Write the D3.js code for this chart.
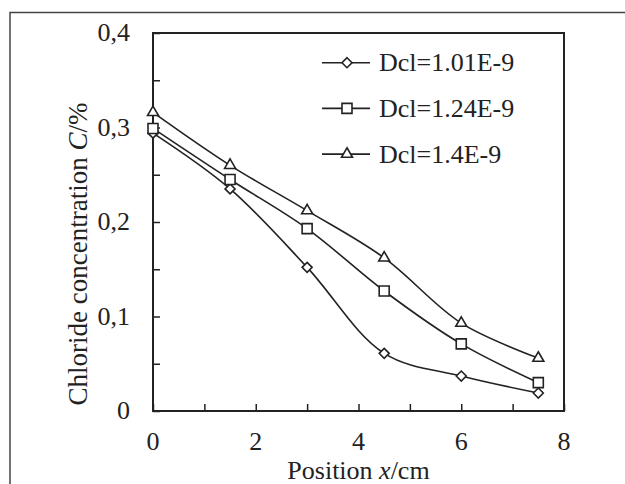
<!DOCTYPE html>
<html>
<head>
    <meta charset="UTF-8" />
</head>
<body style="margin:0">
    <svg id="svg" width="625" height="484"></svg>
    <script src="https://cdn.jsdelivr.net/npm/d3@7"></script>
    <script>
        // data
        const positions = [0, 1.5, 3, 4.5, 6, 7.5];
        const dcl101 = [0.294, 0.235, 0.152, 0.061, 0.037, 0.019];
        const dcl124 = [0.299, 0.245, 0.193, 0.127, 0.071, 0.030];
        const dcl140 = [0.316, 0.260, 0.212, 0.162, 0.093, 0.056];
        const seriesNames = ["Dcl=1.01E-9", "Dcl=1.24E-9", "Dcl=1.4E-9"];
        const xTicks = [0, 2, 4, 6, 8];
        const yTicks = [0, 0.1, 0.2, 0.3, 0.4];

        const series = [
            { name: seriesNames[0], values: dcl101, marker: "diamond" },
            { name: seriesNames[1], values: dcl124, marker: "square" },
            { name: seriesNames[2], values: dcl140, marker: "triangle" }
        ];

        const margin = { top: 33, right: 61, bottom: 73, left: 153 };
        const width = 625 - margin.left - margin.right;
        const height = 484 - margin.top - margin.bottom;

        const svg = d3.select("#svg");

        // all text in one serif face
        const addText = (parent, size) => parent.append("text")
            .attr("font-family", "Liberation Serif")
            .attr("font-size", size)
            .attr("fill", "#222");

        // outer frame of the figure (runs off the right and bottom)
        svg.append("rect")
            .attr("x", 10).attr("y", 12.5)
            .attr("width", 700).attr("height", 600)
            .attr("fill", "none")
            .attr("stroke", "#444")
            .attr("stroke-width", 1.5);

        const g = svg.append("g")
            .attr("transform", `translate(${margin.left},${margin.top})`);

        const xScale = d3.scaleLinear().domain([0, 8]).range([0, width]);
        const yScale = d3.scaleLinear().domain([0, 0.4]).range([height, 0]);

        const fmt = (d) => d === 0 ? "0" : d3.format(".1f")(d).replace(".", ",");

        // inward ticks
        const xAxis = g.append("g")
            .attr("transform", `translate(0,${height})`)
            .call(d3.axisBottom(xScale).ticks(8).tickSize(-7).tickFormat(""));
        const yAxis = g.append("g")
            .call(d3.axisLeft(yScale).tickValues(d3.range(0, 0.401, 0.05)).tickSize(-7).tickFormat(""));
        [xAxis, yAxis].forEach((ax) => {
            ax.select(".domain").remove();
            ax.selectAll("line").attr("stroke", "#222").attr("stroke-width", 1.5);
        });

        // tick labels
        xTicks.forEach((d) => {
            addText(g, 26)
                .attr("x", xScale(d))
                .attr("y", height + 39)
                .attr("text-anchor", "middle")
                .text(d);
        });
        yTicks.forEach((d) => {
            addText(g, 26)
                .attr("x", -23)
                .attr("y", yScale(d) + 8)
                .attr("text-anchor", "end")
                .text(fmt(d));
        });

        // plot frame
        g.append("rect")
            .attr("width", width).attr("height", height)
            .attr("fill", "none")
            .attr("stroke", "#222")
            .attr("stroke-width", 2);

        // axis titles
        const xt = addText(svg, 26)
            .attr("x", margin.left + width / 2)
            .attr("y", 479)
            .attr("text-anchor", "middle");
        xt.append("tspan").text("Position ");
        xt.append("tspan").attr("font-style", "italic").text("x");
        xt.append("tspan").text("/cm");

        const yt = addText(svg, 27)
            .attr("transform", "translate(87,254) rotate(-90)")
            .attr("text-anchor", "middle");
        yt.append("tspan").text("Chloride concentration ");
        yt.append("tspan").attr("font-style", "italic").text("C");
        yt.append("tspan").text("/%");

        // marker shapes
        function markerPath(type) {
            const p = d3.path();
            if (type === "diamond") {
                const r = 5;
                p.moveTo(0, -r); p.lineTo(r, 0); p.lineTo(0, r); p.lineTo(-r, 0); p.closePath();
                return p.toString();
            }
            if (type === "square") {
                return d3.symbol().type(d3.symbolSquare).size(100)();
            }
            return d3.symbol().type(d3.symbolTriangle).size(52)();
        }

        const line = d3.line()
            .x((d) => xScale(d[0]))
            .y((d) => yScale(d[1]))
            .curve(d3.curveCatmullRom.alpha(0.5));

        series.forEach((s) => {
            const pts = positions.map((x, i) => [x, s.values[i]]);
            g.append("path")
                .datum(pts)
                .attr("d", line)
                .attr("fill", "none")
                .attr("stroke", "#222")
                .attr("stroke-width", 1.6);
        });

        series.forEach((s) => {
            const pts = positions.map((x, i) => [x, s.values[i]]);
            g.selectAll(null)
                .data(pts)
                .enter().append("path")
                .attr("transform", (d) => `translate(${xScale(d[0])},${yScale(d[1])})`)
                .attr("d", markerPath(s.marker))
                .attr("fill", "white")
                .attr("stroke", "#222")
                .attr("stroke-width", 1.6);
        });

        // legend
        const legend = svg.append("g");
        series.forEach((s, i) => {
            const y = 62.7 + i * 45.7;
            legend.append("line")
                .attr("x1", 322).attr("x2", 370)
                .attr("y1", y).attr("y2", y)
                .attr("stroke", "#222")
                .attr("stroke-width", 1.6);
            legend.append("path")
                .attr("transform", `translate(347,${y})`)
                .attr("d", markerPath(s.marker))
                .attr("fill", "white")
                .attr("stroke", "#222")
                .attr("stroke-width", 1.6);
            addText(legend, 26)
                .attr("x", 379)
                .attr("y", y + 8.5)
                .text(s.name);
        });
    </script>
</body>
</html>
